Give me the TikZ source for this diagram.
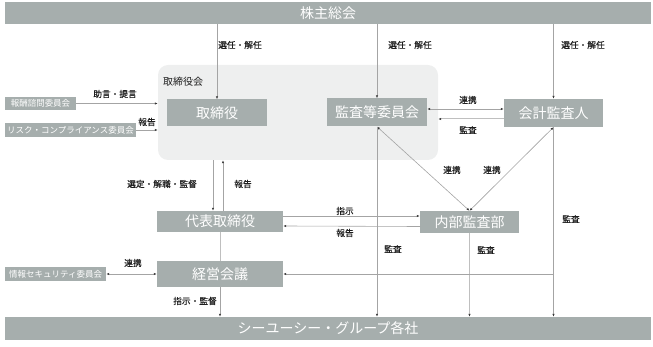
\documentclass[tikz,border=0pt]{standalone}
\usepackage{fontspec}
\setmainfont{Noto Sans CJK JP}
\newfontfamily\lblfont[FakeBold=0.5]{Noto Sans CJK JP}
\usetikzlibrary{positioning,arrows.meta,calc}
\definecolor{boxgray}{HTML}{A6AEAD}
\definecolor{boardbg}{HTML}{EEEFEF}
\definecolor{linegray}{HTML}{A4A4A4}
\definecolor{tipgray}{HTML}{3A3A3A}
\definecolor{labeltext}{HTML}{1E1E1E}

\begin{document}
\begin{tikzpicture}[x=1pt,y=-1pt,
    tip/.tip={Latex[length=3pt,width=2.4pt,color=tipgray]},
    unit/.style={fill=boxgray, text=white, inner sep=0pt, font=\fontsize{14}{14}\selectfont},
    committee/.style={fill=boxgray, text=white, inner sep=0pt, font=\fontsize{8.5}{8.5}\selectfont},
    lbl/.style={text=labeltext, inner sep=0pt, font=\lblfont\fontsize{8.7}{8.7}\selectfont},
    link/.style={draw=linegray, line width=0.6pt},
    arr/.style={link, -tip},
    darr/.style={link, tip-tip}]
  \useasboundingbox (0,0) rectangle (653,347);

  % board of directors area
  \node[fill=boardbg, rounded corners=10pt, minimum width=280pt, minimum height=95pt, inner sep=0pt] (board) at (298,112.5) {};
  \node[lbl, anchor=west, font=\fontsize{10}{10}\selectfont] (boardlbl) at (163,82) {取締役会};

  % bars
  \node[unit, minimum width=646pt, minimum height=22pt] (agm) at (328,13) {株主総会};
  \node[unit, minimum width=646pt, minimum height=23pt] (group) at (328,328.5) {シーユーシー・グループ各社};

  % units
  \node[unit, minimum width=100pt, minimum height=27pt] (director) at (217,113) {取締役};
  \node[unit, minimum width=100pt, minimum height=28pt] (auditcom) at (377,112.5) {監査等委員会};
  \node[unit, minimum width=99pt, minimum height=28pt] (accauditor) at (553.5,113) {会計監査人};
  \node[unit, minimum width=126pt, minimum height=21pt] (ceo) at (220,221.5) {代表取締役};
  \node[unit, minimum width=99pt, minimum height=22pt] (internal) at (469.5,222) {内部監査部};
  \node[unit, minimum width=126pt, minimum height=26pt] (mgmt) at (220,274) {経営会議};

  % committees
  \node[committee, minimum width=71pt, minimum height=13pt] (reward) at (40.5,103.5) {報酬諮問委員会};
  \node[committee, minimum width=131pt, minimum height=14pt] (risk) at (70.5,130) {リスク・コンプライアンス委員会};
  \node[committee, minimum width=101pt, minimum height=14pt] (security) at (55.5,274) {情報セキュリティ委員会};

  % connectors
  \draw[arr] (agm.south -| director.north) -- (director.north);
  \draw[arr] (agm.south -| auditcom.north) -- (auditcom.north);
  \draw[arr] (agm.south -| accauditor.north) -- (accauditor.north);
  \draw[arr] (reward.east) -- (reward.east -| board.west);
  \draw[arr] (risk.east) -- (risk.east -| board.west);
  \draw[darr] ([yshift=3.5pt]auditcom.east) -- ([yshift=3.5pt]auditcom.east -| accauditor.west);
  \draw[arr, line width=1pt, draw=linegray!70] ([yshift=-6pt]accauditor.west) -- ([yshift=-6pt]accauditor.west -| board.east);
  \draw[darr] (auditcom.south) -- (internal.north);
  \draw[darr] (accauditor.south) -- (internal.north);
  \draw[arr] ([xshift=-7pt]ceo.north |- board.south) -- ([xshift=-7pt]ceo.north);
  \draw[arr] ([xshift=3pt]ceo.north) -- ([xshift=3pt]ceo.north |- board.south);
  \draw[arr] ([yshift=5.5pt]ceo.east) -- ([yshift=5.5pt]ceo.east -| internal.west);
  \draw[arr] ([yshift=-4.5pt]internal.west -| ceo.east) ++(137pt,0) -- ([yshift=-4.5pt]ceo.east);
  \draw[link, line width=1pt, draw=linegray!70] (ceo.south) -- (mgmt.north);
  \draw[darr] (security.east) -- (mgmt.west);
  \draw[arr] (mgmt.south) -- (mgmt.south |- group.north);
  \draw[arr] (auditcom.south) -- (auditcom.south |- group.north);
  \draw[arr, line width=1pt, draw=linegray!70] (internal.south) -- (internal.south |- group.north);
  \draw[arr] (accauditor.south) -- (accauditor.south |- group.north);
  \draw[arr] (accauditor.south |- mgmt.east) -- (mgmt.east);

  % labels
  \node[lbl] (l1) at (240,45) {選任・解任};
  \node[lbl] (l2) at (410,45) {選任・解任};
  \node[lbl] (l3) at (583,45) {選任・解任};
  \node[lbl] (l4) at (115,94) {助言・提言};
  \node[lbl] (l5) at (147,122) {報告};
  \node[lbl] (l6) at (468,100) {連携};
  \node[lbl] (l7) at (468,130) {監査};
  \node[lbl] (l8) at (162,184) {選定・解職・監督};
  \node[lbl] (l9) at (243,184) {報告};
  \node[lbl] (l10) at (452,170) {連携};
  \node[lbl] (l11) at (492,170) {連携};
  \node[lbl] (l12) at (345,211) {指示};
  \node[lbl] (l13) at (345,233) {報告};
  \node[lbl] (l14) at (393,249) {監査};
  \node[lbl] (l15) at (486,250) {監査};
  \node[lbl] (l16) at (571,219) {監査};
  \node[lbl] (l17) at (133,263) {連携};
  \node[lbl] (l18) at (195,301) {指示・監督};
\end{tikzpicture}
\end{document}
